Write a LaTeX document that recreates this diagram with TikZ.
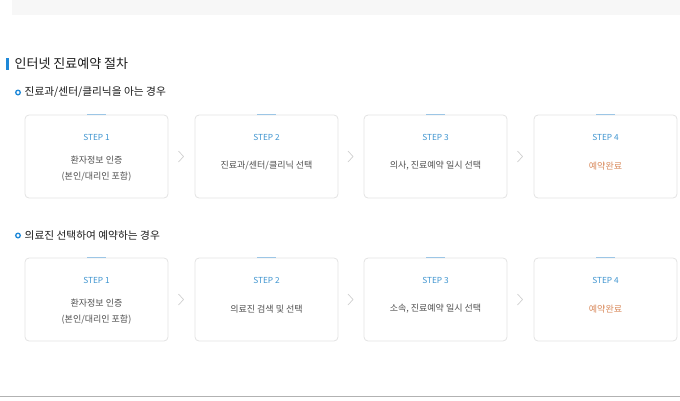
\documentclass[tikz,border=0pt]{standalone}
\usepackage{fontspec}
\usetikzlibrary{calc}
\setmainfont{Noto Sans CJK KR}
\definecolor{topgray}{HTML}{F7F7F7}
\definecolor{boxline}{HTML}{E3E3E3}
\definecolor{tabblue}{HTML}{9CC6E6}
\definecolor{stepblue}{HTML}{3D94D0}
\definecolor{bodygray}{HTML}{505050}
\definecolor{doneorange}{HTML}{D98A5C}
\definecolor{barblue}{HTML}{1E88D8}
\definecolor{chev}{HTML}{CFCFCF}
\definecolor{titleblk}{HTML}{1A1A1A}
\tikzset{
  stepbox/.style={draw=boxline, line width=0.8pt, rounded corners=4pt, fill=white, minimum width=143pt, minimum height=83pt, inner sep=0pt},
  steplabel/.style={font=\fontsize{8.3}{10}\selectfont, text=stepblue},
  bodytext/.style={font=\fontsize{9}{15.5}\selectfont, text=bodygray, align=center},
  donetext/.style={font=\fontsize{9}{15.5}\selectfont, text=doneorange, align=center},
  chevron/.style={draw=chev, line width=0.7pt},
  tab/.style={draw=tabblue, line width=1.6pt},
}
\begin{document}
\begin{tikzpicture}[x=1pt,y=-1pt]
\useasboundingbox (0,0) rectangle (680,400);
\fill[topgray] (12,0) rectangle (680,15);
% title
\fill[barblue] (6,57.5) rectangle (8.5,69.5);
\node[anchor=west, inner sep=0pt, font=\fontsize{13}{15}\selectfont, text=titleblk] (title) at (14.5,63.5) {인터넷 진료예약 절차};
% subtitles
\draw[barblue, line width=1.3pt] (18,92.5) circle (2.3);
\node[anchor=west, inner sep=0pt, font=\fontsize{10.7}{13}\selectfont, text=titleblk] (sub1) at (24.5,92.5) {진료과/센터/클리닉을 아는 경우};
\draw[barblue, line width=1.3pt] (18,235.5) circle (2.3);
\node[anchor=west, inner sep=0pt, font=\fontsize{10.7}{13}\selectfont, text=titleblk] (sub2) at (24.5,235.5) {의료진 선택하여 예약하는 경우};
% rows
\foreach \r/\y in {1/156.5, 2/299.5} {
  \foreach \i/\x in {1/96.5, 2/266.5, 3/435.5, 4/605.5} {
    \node[stepbox] (b\r\i) at (\x,\y) {};
    \draw[tab] ([xshift=-9.5pt]b\r\i.north) -- ([xshift=9.5pt]b\r\i.north);
    \node[steplabel] (s\r\i) at ([yshift=-22.5pt]b\r\i.north) {STEP \i};
  }
  \foreach \a/\b in {1/2, 2/3, 3/4} {
    \coordinate (m\r\a) at ($(b\r\a.east)!0.5!(b\r\b.west)$);
    \draw[chevron] ([xshift=-3pt,yshift=-5.5pt]m\r\a) -- ([xshift=2pt]m\r\a) -- ([xshift=-3pt,yshift=5.5pt]m\r\a);
  }
}
\node[bodytext] (t11) at ([yshift=-12pt]b11.center) {환자정보 인증\\(본인/대리인 포함)};
\node[bodytext] (t12) at ([yshift=-9.5pt]b12.center) {진료과/센터/클리닉 선택};
\node[bodytext] (t13) at ([yshift=-9.5pt]b13.center) {의사, 진료예약 일시 선택};
\node[donetext] (t14) at ([yshift=-9.5pt]b14.center) {예약완료};
\node[bodytext] (t21) at ([yshift=-12pt]b21.center) {환자정보 인증\\(본인/대리인 포함)};
\node[bodytext] (t22) at ([yshift=-9.5pt]b22.center) {의료진 검색 및 선택};
\node[bodytext] (t23) at ([yshift=-9.5pt]b23.center) {소속, 진료예약 일시 선택};
\node[donetext] (t24) at ([yshift=-9.5pt]b24.center) {예약완료};
% bottom line
\draw[color=black!30, line width=1.2pt] (0,396.5) -- (680,396.5);
\end{tikzpicture}
\end{document}
